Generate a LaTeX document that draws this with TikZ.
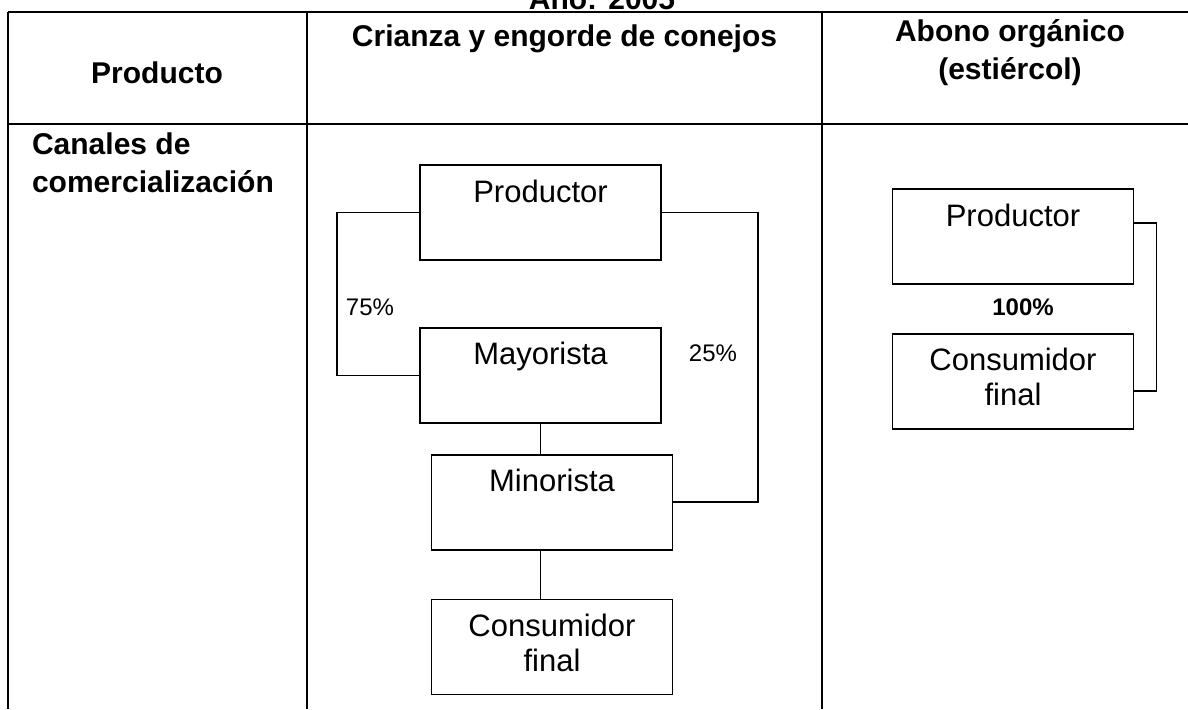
\documentclass[tikz,border=0pt]{standalone}
\usepackage{fontspec}
\setmainfont{Liberation Sans}
\usepackage{tikz}
\usetikzlibrary{positioning}

\begin{document}
\begin{tikzpicture}[
    x=0.5pt, y=-0.5pt,
    node distance=33pt,
    box/.style={rectangle, draw, line width=0.9pt, minimum width=120.5pt, minimum height=47.5pt, inner sep=0pt, align=center, font=\fontsize{15.5}{17.5}\selectfont},
    head/.style={font=\fontsize{15}{19}\selectfont\bfseries, align=center},
    pct/.style={font=\fontsize{12}{14}\selectfont},
    grid/.style={line width=0.7pt},
    link/.style={line width=0.8pt}
]
\useasboundingbox (0,0) rectangle (1188,709);

% Title (cut at the top edge)
\node[head, anchor=base] (year) at (602,9.5) {Año: 2005};

% Table
\draw[grid] (8,12) -- (1188,12);
\draw[grid] (8,124) -- (1188,124);
\foreach \x in {8,307,822}
    \draw[grid] (\x,12) -- (\x,709);

% Headers (base = last line)
\node[head, anchor=base] (hprod) at (157,83) {Producto};
\node[head, anchor=base] (hcon) at (564.5,46) {Crianza y engorde de conejos};
\node[head, anchor=base] (habono) at (1010,79) {Abono orgánico\\(estiércol)};
\node[head, anchor=base west, align=left] (hcanal) at (25,192) {Canales de\\comercialización};

% Rabbits channel
\node[box] (prodA) at (540.5,212.5) {\strut Productor\\\strut};
\node[box, below=of prodA] (mayA) {\strut Mayorista\\\strut};
\node[box, below=15pt of mayA, xshift=5.75pt] (minA) {\strut Minorista\\\strut};
\node[box, below=24pt of minA] (consA) {\strut Consumidor\\\strut final};

% Manure channel
\node[box] (prodB) at (1013,236.5) {\strut Productor\\\strut};
\node[box, below=24pt of prodB] (consB) {\strut Consumidor\\\strut final};

% Links
\draw[link] (prodA.west) -- ++(-41pt,0) |- (mayA.west);
\draw[link] (prodA.east) -- ++(48pt,0) |- (minA.east);
\draw[link] (mayA.south) -- (mayA.south |- minA.north);
\draw[link] (mayA.south |- minA.south) -- (mayA.south |- consA.north);
\draw[link] ([yshift=6.75pt]prodB.east) -- ++(11pt,0) |- ([yshift=-4.75pt]consB.east);

% Shares
\node[pct] (p75) at (370,307) {75\%};
\node[pct] (p25) at (713,353) {25\%};
\node[pct, font=\fontsize{12}{14}\selectfont\bfseries] (p100) at (1023,307) {100\%};

\end{tikzpicture}
\end{document}
